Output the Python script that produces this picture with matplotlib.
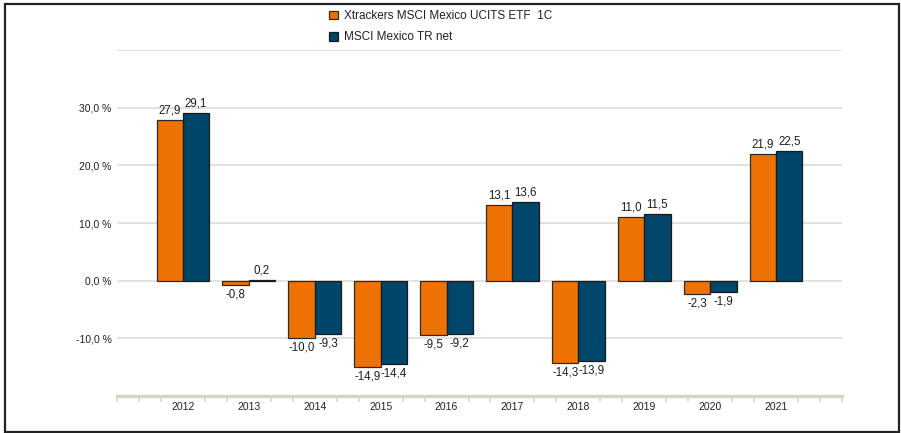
import matplotlib
matplotlib.use("Agg")
import matplotlib.pyplot as plt
from matplotlib.patches import Rectangle
import numpy as np

plt.rcParams['font.family'] = ['Liberation Sans', 'DejaVu Sans']

years = ["2012", "2013", "2014", "2015", "2016", "2017", "2018", "2019", "2020", "2021"]
etf = [27.9, -0.8, -10.0, -14.9, -9.5, 13.1, -14.3, 11.0, -2.3, 21.9]
index = [29.1, 0.2, -9.3, -14.4, -9.2, 13.6, -13.9, 11.5, -1.9, 22.5]
series_names = ["Xtrackers MSCI Mexico UCITS ETF  1C", "MSCI Mexico TR net"]
colors = ["#EE7203", "#00466A"]
yticks_labeled = [-10, 0, 10, 20, 30]

fig = plt.figure(figsize=(9.01, 4.33), dpi=100)
ax = fig.add_axes([117/901, 37/433, (842-117)/901, (396-50)/433])

x = np.arange(len(years))
w = 0.4
bars1 = ax.bar(x - w/2, etf, w, color=colors[0], edgecolor="#2a2a2a", linewidth=0.9,
               label=series_names[0], zorder=3)
bars2 = ax.bar(x + w/2, index, w, color=colors[1], edgecolor="#1a1a1a", linewidth=0.9,
               label=series_names[1], zorder=3)

def fmt(v):
    return f"{v:.1f}".replace(".", ",")

for bars, vals in ((bars1, etf), (bars2, index)):
    for b, v in zip(bars, vals):
        cx = b.get_x() + b.get_width()/2
        if v >= 0:
            ax.annotate(fmt(v), (cx, v), xytext=(0, 2.5), textcoords="offset points",
                        ha="center", va="bottom", fontsize=8.3, color="#1e1e1e", zorder=4)
        else:
            ax.annotate(fmt(v), (cx, v), xytext=(0, -2.5), textcoords="offset points",
                        ha="center", va="top", fontsize=8.3, color="#1e1e1e", zorder=4)

ax.set_xlim(-1, 10)
ax.set_ylim(-20, 40)

# gridlines
for g in [-10, 0, 10, 20, 30, 40]:
    ax.axhline(g, color="#E5E2DD", linewidth=1.4, zorder=1)

ax.set_yticks(yticks_labeled)
ax.set_yticklabels([f"{t:.1f} %".replace(".", ",") for t in yticks_labeled])
ax.tick_params(axis="y", length=0, pad=4, labelsize=7.5, labelcolor="#222222")

ax.set_xticks(x)
ax.set_xticklabels(years)
ax.tick_params(axis="x", which="major", length=0, pad=4, labelsize=7.5, labelcolor="#222222")
minor = [k/3 for k in range(-3, 31) if k % 3 != 0 or k in (-3, 30)]
ax.set_xticks(minor, minor=True)
ax.tick_params(axis="x", which="minor", length=4, width=1.2, color="#D8D3C8", direction="out")

for s in ["top", "right", "left"]:
    ax.spines[s].set_visible(False)
ax.spines["bottom"].set_color("#D8D3C8")
ax.spines["bottom"].set_linewidth(2.5)

leg = fig.legend(handles=[bars1, bars2], labels=series_names, loc="upper left",
                 bbox_to_anchor=(329/901, 1 - 10/433), frameon=False, fontsize=8.5,
                 handlelength=0.75, handleheight=0.75, handletextpad=0.55,
                 labelspacing=0.8, borderpad=0, borderaxespad=0)
for t in leg.get_texts():
    t.set_color("#222222")

fig.patches.append(Rectangle((5/901, 1/433), 894/901, 428/433, transform=fig.transFigure,
                             fill=False, edgecolor="#222222", linewidth=1.6))

fig.savefig("out.png", dpi=100)
